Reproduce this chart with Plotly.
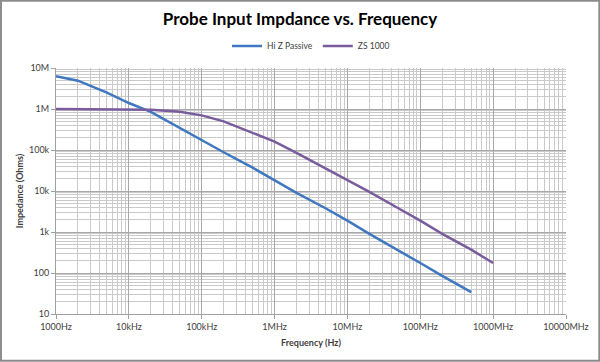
import plotly.graph_objects as go

freq_hz = [1e3, 2e3, 5e3, 1e4, 2e4, 5e4, 1e5, 2e5, 5e5, 1e6, 2e6, 5e6, 1e7, 2e7, 5e7, 1e8, 2e8, 5e8, 1e9]
hiz_passive = [6.3e6, 4.9e6, 2.5e6, 1.4e6, 8.5e5, 3.4e5, 1.75e5, 8.8e4, 3.7e4, 1.8e4, 9.0e3, 3.8e3, 1.9e3, 900, 360, 175, 85, 34, None]
zs_1000 = [1.0e6, 1.0e6, 1.0e6, 0.99e6, 0.96e6, 0.86e6, 0.70e6, 0.50e6, 2.57e5, 1.6e5, 8.5e4, 3.6e4, 1.9e4, 9.5e3, 3.8e3, 1.9e3, 900, 370, 175]

x_tickvals = [1e3, 1e4, 1e5, 1e6, 1e7, 1e8, 1e9, 1e10]
x_ticktext = ["1000Hz", "10kHz", "100kHz", "1MHz", "10MHz", "100MHz", "1000MHz", "10000MHz"]
y_tickvals = [10, 100, 1e3, 1e4, 1e5, 1e6, 1e7]
y_ticktext = ["10", "100", "1k", "10k", "100k", "1M", "10M"]

FONT = "Lato"

fig = go.Figure()
fig.add_trace(go.Scatter(x=freq_hz, y=hiz_passive, mode="lines", name="Hi Z Passive",
                         line=dict(color="#3F78C0", width=2.5)))
fig.add_trace(go.Scatter(x=freq_hz, y=zs_1000, mode="lines", name="ZS 1000",
                         line=dict(color="#7A5C9E", width=2.5)))

L, R, T, B = 56, 34.3, 68.3, 47.7
W, H = 600, 362
pw, ph = W - L - R, H - T - B

fig.update_layout(
    width=W, height=H,
    margin=dict(l=L, r=R, t=T, b=B, pad=0, autoexpand=False),
    paper_bgcolor="white", plot_bgcolor="white",
    font=dict(family=FONT, size=9, color="#404040"),
    title=dict(text="<b>Probe Input Impdance vs. Frequency</b>", x=0.5, xanchor="center",
               y=1 - 19 / H, yanchor="middle", font=dict(family=FONT, size=17, color="#000000")),
    showlegend=True,
    legend=dict(orientation="h", x=0.5, xanchor="center", y=1 - 46 / H, yref="container",
                yanchor="middle", font=dict(size=8.5, color="#404040"),
                itemwidth=30, tracegroupgap=0),
    xaxis=dict(type="log", range=[3, 10], tickvals=x_tickvals, ticktext=x_ticktext,
               showgrid=True, gridcolor="#A8A8A8", gridwidth=1,
               minor=dict(showgrid=True, gridcolor="#CACACA", gridwidth=1, dtick="D1"),
               showline=True, linecolor="#A0A0A0", linewidth=1,
               ticks="outside", ticklen=4, tickcolor="#A0A0A0",
               tickfont=dict(size=9, color="#404040"), automargin=False,
               title=dict(text="<b>Frequency (Hz)</b>", font=dict(size=9, color="#404040"), standoff=8),
               mirror=False, zeroline=False),
    yaxis=dict(type="log", range=[1, 7], tickvals=y_tickvals, ticktext=y_ticktext,
               showgrid=True, gridcolor="#A8A8A8", gridwidth=1,
               minor=dict(showgrid=True, gridcolor="#CACACA", gridwidth=1, dtick="D1"),
               showline=True, linecolor="#A0A0A0", linewidth=1,
               ticks="outside", ticklen=4, tickcolor="#A0A0A0",
               tickfont=dict(size=9, color="#404040"), automargin=False,
               title=dict(text="<b>Impedance (Ohms)</b>", font=dict(size=9, color="#404040"), standoff=3),
               zeroline=False),
)

# outer border around the whole chart
fig.add_shape(type="rect", xref="paper", yref="paper",
              x0=-(L - 1) / pw, x1=1 + (R - 1) / pw, y0=-(B - 1) / ph, y1=1 + (T - 1) / ph,
              line=dict(color="#8C8C8C", width=2), fillcolor="rgba(0,0,0,0)", layer="above")

fig.write_html("out.html", config={"displayModeBar": False},
               post_script="document.body.style.margin='0';document.body.style.overflow='hidden';")
